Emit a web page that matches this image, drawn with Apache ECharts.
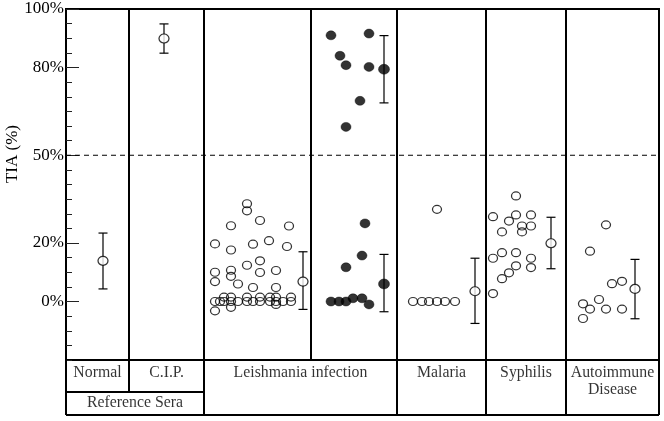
<!DOCTYPE html>
<html><head><meta charset="utf-8">
<script src="https://cdn.jsdelivr.net/npm/echarts@6/dist/echarts.min.js"></script>
<style>html,body{margin:0;padding:0;background:#fff}#c{width:664px;height:421px}</style>
</head><body><div id="c"></div>
<script>
// ---- data ----
const yTickValues = [0, 20, 50, 80, 100];
const panelDividers = [63, 138, 245, 331, 420, 500];
const leishOpen = [
  [181,33.4],[181,31],[194,27.7],[165,25.9],[223,25.8],[149,19.7],[203,20.8],[187,19.6],[165,17.6],[221,18.8],
  [194,13.9],[181,12.4],[149,10],[165,10.7],[194,9.9],[210,10.6],[165,8.6],[149,6.8],[172,6],[187,4.8],[210,4.8],
  [149,0],[154,0],[158,0],[165,0],[172,0],[181,0],[187,0],[194,0],[204,0],[210,0],[217,0],[225,0],
  [158,1.5],[165,1.5],[181,1.5],[194,1.5],[204,1.5],[210,1.5],[225,1.5],
  [149,-3.2],[165,-2],[210,-1]
];
const leishFilled = [
  [265,91],[303,91.6],[274,84],[280,80.8],[303,80.2],[294,68.6],[280,59.7],
  [299,26.7],[296,15.7],[280,11.7],[265,0],[273,0],[280,0],[287,1.1],[296,1.1],[303,-1]
];
const malaria = [[371,31.5],[347,0],[356,0],[363,0],[371,0],[379,0],[389,0]];
const syphilis = [
  [450,36.1],[427,29],[450,29.6],[465,29.6],[443,27.5],[456,25.8],[465,25.8],[436,23.8],[456,23.8],
  [436,16.7],[450,16.7],[427,14.8],[465,14.8],[450,12.2],[465,11.6],[443,9.8],[436,7.8],[427,2.7]
];
const autoimmune = [[540,26.2],[524,17.2],[546,6.1],[556,6.9],[533,0.7],[517,-0.8],[524,-2.6],[540,-2.6],[556,-2.6],[517,-5.8]];
const openMeans = [[37,13.9],[98,89.9],[237,6.8],[409,3.5],[485,19.9],[569,4.3]];
const filledMeans = [[318,79.4],[318,6]];
const errorBars = [[37,4.3,23.4],[98,84.9,94.9],[237,-2.7,17],[318,67.9,90.9],[318,-3.5,16.1],[409,-7.5,14.8],[485,11.2,28.8],[569,-5.9,14.4]];
const tableTexts = ['Normal','C.I.P.','Leishmania infection','Malaria','Syphilis','Autoimmune\nDisease','Reference Sera'];

// ---- layout (table grid units) ----
const tableTextPos = [[31.5,13],[100.5,13],[234.5,13],[375.5,13],[460,13],[546.5,21.5],[69,43]];
const tableSegments = [
  [0,0,0,55],[593,0,593,55],[0,55,593,55],[0,32,138,32],
  [63,0,63,32],[138,0,138,55],[331,0,331,55],[420,0,420,55],[500,0,500,55]
];

const SERIF = '"Liberation Serif","DejaVu Serif",serif';
const chart = echarts.init(document.getElementById('c'), null, {renderer:'canvas'});

function segRender(lineW, dash) {
  return function(params, api) {
    const p1 = api.coord([api.value(0), api.value(1)]);
    const p2 = api.coord([api.value(2), api.value(3)]);
    return {type:'line', shape:{x1:p1[0],y1:p1[1],x2:p2[0],y2:p2[1]},
      style:{stroke:'#000', lineWidth:lineW, lineDash:dash||null}};
  };
}

const openStyle = {color:'rgba(0,0,0,0)', borderColor:'#000', borderWidth:1.2};
const filledStyle = {color:'#000', borderColor:'#000', borderWidth:0.5};

chart.setOption({
  animation:false,
  backgroundColor:'#fff',
  grid:[
    {left:66, right:5, top:9, height:351, show:true, borderColor:'#000', borderWidth:2, backgroundColor:'transparent'},
    {left:66, right:5, top:360, height:55, show:false}
  ],
  xAxis:[
    {gridIndex:0, type:'value', min:0, max:593, show:false},
    {gridIndex:1, type:'value', min:0, max:593, show:false}
  ],
  yAxis:[
    {gridIndex:0, type:'value', min:-20, max:100, interval:5, position:'left',
      axisLine:{show:false}, splitLine:{show:false},
      axisTick:{show:true, inside:true, length:6, lineStyle:{color:'#222', width:1}},
      axisLabel:{show:false}},
    {gridIndex:0, type:'value', min:-20, max:100, interval:5, position:'left', offset:0,
      axisLine:{show:false}, splitLine:{show:false},
      axisTick:{show:true, inside:true, length:13, customValues:yTickValues, lineStyle:{color:'#222', width:1}},
      axisLabel:{show:true, customValues:yTickValues, margin:2, formatter:v=>v+'%',
        fontFamily:SERIF, fontSize:17, color:'#000'}},
    {gridIndex:1, type:'value', min:0, max:55, inverse:true, show:false}
  ],
  graphic:[
    {type:'text', x:13, y:154, rotation:Math.PI/2, originX:0, originY:0,
      style:{text:'TIA (%)', font:'17px ' + SERIF, fill:'#000', align:'center', verticalAlign:'middle'}}
  ],
  series:[
    {type:'custom', xAxisIndex:0, yAxisIndex:0, data:panelDividers.map(x=>[x,-20,x,100]),
      renderItem:segRender(2), z:5, silent:true},
    {type:'custom', xAxisIndex:0, yAxisIndex:0, data:[[0,50,593,50]],
      renderItem:segRender(1,[5,4]), z:4, silent:true},
    {type:'scatter', xAxisIndex:0, yAxisIndex:0, data:leishOpen, symbol:'circle', symbolSize:[9,8], itemStyle:openStyle, z:6},
    {type:'scatter', xAxisIndex:0, yAxisIndex:0, data:leishFilled, symbol:'circle', symbolSize:[10,9], itemStyle:filledStyle, z:6},
    {type:'scatter', xAxisIndex:0, yAxisIndex:0, data:malaria, symbol:'circle', symbolSize:[9,8], itemStyle:openStyle, z:6},
    {type:'scatter', xAxisIndex:0, yAxisIndex:0, data:syphilis, symbol:'circle', symbolSize:[9,8], itemStyle:openStyle, z:6},
    {type:'scatter', xAxisIndex:0, yAxisIndex:0, data:autoimmune, symbol:'circle', symbolSize:[9,8], itemStyle:openStyle, z:6},
    {type:'custom', xAxisIndex:0, yAxisIndex:0, data:errorBars, z:6,
      renderItem:function(params, api){
        const x = api.value(0);
        const lo = api.coord([x, api.value(1)]);
        const hi = api.coord([x, api.value(2)]);
        const w = 4.5, st = {stroke:'#000', lineWidth:1.2};
        return {type:'group', children:[
          {type:'line', shape:{x1:lo[0],y1:lo[1],x2:hi[0],y2:hi[1]}, style:st},
          {type:'line', shape:{x1:lo[0]-w,y1:lo[1],x2:lo[0]+w,y2:lo[1]}, style:st},
          {type:'line', shape:{x1:hi[0]-w,y1:hi[1],x2:hi[0]+w,y2:hi[1]}, style:st}
        ]};
      }},
    {type:'scatter', xAxisIndex:0, yAxisIndex:0, data:openMeans, symbol:'circle', symbolSize:[10,9],
      itemStyle:{color:'#fff', borderColor:'#000', borderWidth:1.2}, z:7},
    {type:'scatter', xAxisIndex:0, yAxisIndex:0, data:filledMeans, symbol:'circle', symbolSize:[11,10],
      itemStyle:filledStyle, z:7},
    {type:'custom', xAxisIndex:1, yAxisIndex:2, data:tableSegments, renderItem:segRender(2), z:5, silent:true},
    {type:'scatter', xAxisIndex:1, yAxisIndex:2, symbolSize:0, z:6, silent:true,
      data:tableTexts.map((t,i)=>({name:t, value:tableTextPos[i]})),
      label:{show:true, position:'inside', formatter:p=>p.name, fontFamily:SERIF, fontSize:15.8,
        lineHeight:17, color:'#000', align:'center', verticalAlign:'middle'}}
  ]
});
</script></body></html>
